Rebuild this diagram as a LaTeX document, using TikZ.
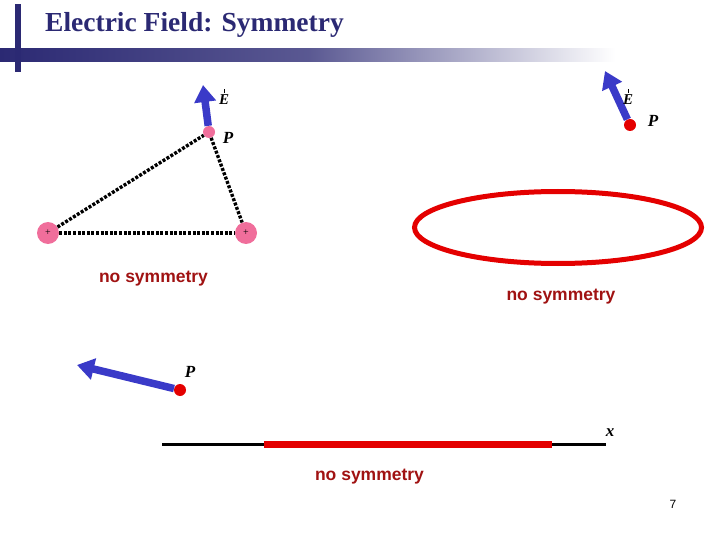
\documentclass[tikz,border=0pt]{standalone}
\usepackage{fontspec}
\setmainfont{Liberation Serif}
\setsansfont{Liberation Sans}
\usetikzlibrary{arrows.meta}

\definecolor{titleblue}{RGB}{43,41,115}
\definecolor{chargepink}{RGB}{240,110,155}
\definecolor{pointred}{RGB}{228,0,0}
\definecolor{fieldblue}{RGB}{58,58,200}
\definecolor{captionred}{RGB}{160,18,18}

\newcommand{\vecE}{\ooalign{\hfil\raisebox{12pt}{\rule{0.9pt}{4pt}}\hfil\cr\textbf{\textit{E}}}}

\tikzset{
	charge/.style={circle,fill=chargepink,minimum size=22pt,inner sep=0pt,font=\fontsize{10}{10}\selectfont},
	ppink/.style={circle,fill=chargepink,minimum size=12pt,inner sep=0pt},
	pred/.style={circle,fill=pointred,minimum size=12pt,inner sep=0pt},
	dotline/.style={line width=3.4pt,dash pattern=on 3pt off 1.6pt},
	efield/.style={fieldblue,line width=7.5pt,-{Triangle[width=21pt,length=17pt]}},
	plabel/.style={font=\fontsize{17}{17}\selectfont\bfseries\itshape,inner sep=0pt},
	elabel/.style={font=\fontsize{15}{15}\selectfont,inner sep=0pt},
	nosym/.style={font=\fontsize{17.5}{18}\selectfont\sffamily\bfseries,text=captionred,inner sep=0pt}
}

\begin{document}
\begin{tikzpicture}[x=1pt,y=-1pt]
	\useasboundingbox (0,0) rectangle (720,540);
	
	%Title bar
	\shade[left color=titleblue,right color=white,middle color=titleblue!78!white] (0,48.5) rectangle (615,61.5);
	\fill[titleblue] (15,4) rectangle (21,72);
	\node[anchor=base west,inner sep=0pt,font=\fontsize{27.5}{27.5}\selectfont\bfseries,text=titleblue] (title) at (45,32) {Electric Field: Symmetry};
	
	%Two point charges
	\node[charge] (q1) at (48,233) {+};
	\node[charge] (q2) at (246,233) {+};
	\node[ppink] (p1) at (209,132) {};
	\draw[dotline] (q1) -- (q2);
	\draw[dotline] (q1) -- (p1);
	\draw[dotline] (p1) -- (q2);
	\coordinate (e1) at (203,85);
	\draw[efield] (p1) -- (e1);
	\node[elabel] (le1) at (224,97) {\vecE};
	\node[plabel] (lp1) at (228,138) {P};
	\node[nosym] (ns1) at (153.5,279) {no symmetry};
	
	%Ring of charge
	\draw[pointred,line width=5pt] (558,227.5) ellipse [x radius=143.5,y radius=36];
	\node[pred] (p2) at (630,125) {};
	\coordinate (e2) at (605,71);
	\draw[efield] (p2) -- (e2);
	\node[elabel] (le2) at (628,97) {\vecE};
	\node[plabel] (lp2) at (653,121) {P};
	\node[nosym] (ns2) at (561,297) {no symmetry};
	
	%Line segment of charge
	\coordinate (a0) at (162,444);
	\coordinate (a1) at (606,444);
	\coordinate (r0) at (264,444);
	\coordinate (r1) at (552,444);
	\draw[line width=3pt] (a0) -- (a1);
	\draw[pointred,line width=7pt] (r0) -- (r1);
	\node[font=\fontsize{17}{17}\selectfont\bfseries\itshape,inner sep=0pt] (lx) at (610,433) {x};
	\node[pred] (p3) at (180,390) {};
	\coordinate (e3) at (77,365);
	\draw[efield] (p3) -- (e3);
	\node[plabel] (lp3) at (190,372) {P};
	\node[nosym] (ns3) at (369.5,477) {no symmetry};
	
	%Page number
	\node[font=\fontsize{12}{12}\selectfont\sffamily,inner sep=0pt] (pg) at (673,504) {7};
\end{tikzpicture}
\end{document}
